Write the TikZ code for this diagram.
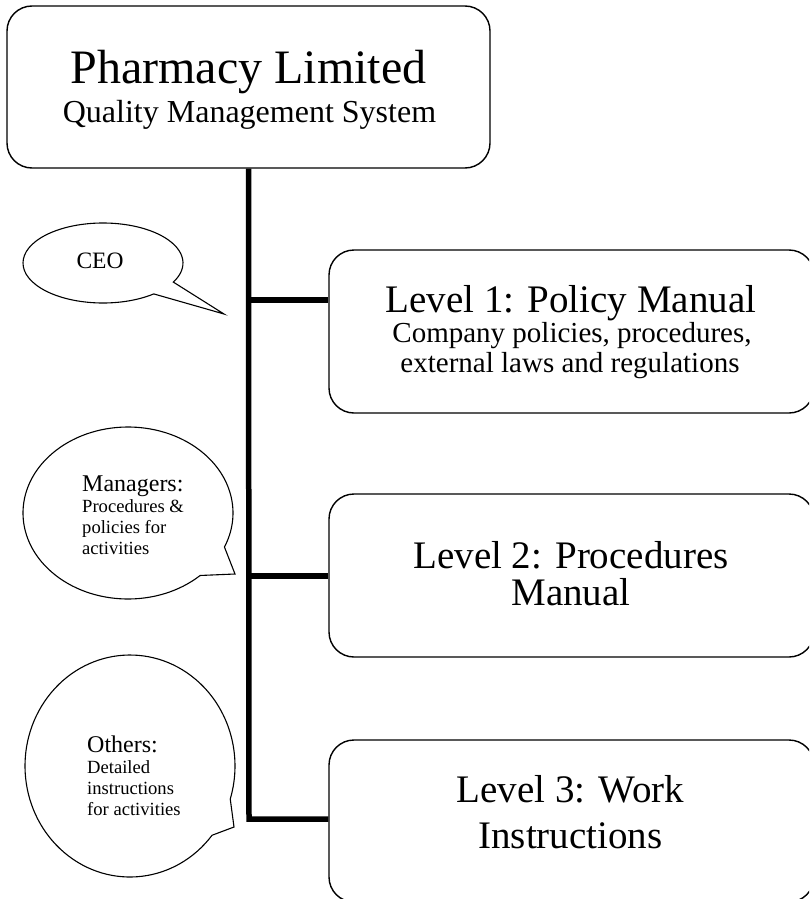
\documentclass[tikz,border=0pt]{standalone}
\usepackage{fontspec}
\setmainfont{Liberation Serif}
\usetikzlibrary{calc}
\begin{document}
\begin{tikzpicture}[x=1pt,y=-1pt,
  box/.style={draw, line width=1.4pt, rounded corners=25pt, inner sep=0pt},
  bubble/.style={draw, line width=1.1pt, line join=miter},
  stem/.style={line width=5.5pt, line join=miter},
  txt/.style={anchor=base, inner sep=0pt},
  txtl/.style={anchor=base west, inner sep=0pt},
  big/.style={font=\fontsize{48}{52}\selectfont},
  sub/.style={font=\fontsize{32}{36}\selectfont},
  lvl/.style={font=\fontsize{39}{44}\selectfont},
  lvlsub/.style={font=\fontsize{29}{33}\selectfont},
  who/.style={font=\fontsize{24}{28}\selectfont},
  whosub/.style={font=\fontsize{18.6}{22}\selectfont},
]
\clip (0,0) rectangle (809,899);

% top box
\node[box, minimum width=483pt, minimum height=162pt] (top) at (248.5,87) {};
\node[txt, big] (t1) at (248.5,83) {Pharmacy Limited};
\node[txt, sub] (t2) at (249.5,122) {Quality Management System};

% level boxes
\node[box, minimum width=485pt, minimum height=163pt] (L1) at (571.5,331.5) {};
\node[box, minimum width=485pt, minimum height=163pt] (L2) at (571.5,575.5) {};
\node[box, minimum width=485pt, minimum height=162pt] (L3) at (571.5,821) {};

\node[txt, lvl] (l1a) at (571,312) {Level 1: Policy Manual};
\node[txt, lvlsub] (l1b) at (572,342) {Company policies, procedures,};
\node[txt, lvlsub] (l1c) at (570,372) {external laws and regulations};

\node[txt, lvl] (l2a) at (571,568) {Level 2: Procedures};
\node[txt, lvl] (l2b) at (571,605) {Manual};

\node[txt, lvl] (l3a) at (570.5,802) {Level 3: Work};
\node[txt, lvl] (l3b) at (570.5,848) {Instructions};

% connectors
\coordinate (j1) at (249,300);
\coordinate (j2) at (249,576);
\coordinate (j3) at (249,819);
\draw[stem] (top.south) -- (j3) -- (j3 -| L3.west);
\draw[stem] (j1) -- (j1 -| L1.west);
\draw[stem] (j2) -- (j2 -| L2.west);

% speech bubbles
\draw[bubble] ($(103,263)+(50.6:80 and 40)$) arc[start angle=50.6, end angle=388.5, x radius=80, y radius=40]
  -- (224,314) -- cycle;
\node[txt, font=\fontsize{23.5}{27}\selectfont] (ceo) at (100,268) {CEO};

\draw[bubble] ($(128,513)+(46.6:105 and 86)$) arc[start angle=46.6, end angle=383.3, x radius=105, y radius=86]
  -- (235,574) -- cycle;
\node[txtl, who] (m1) at (82,491) {Managers:};
\node[txtl, whosub] (m2) at (82,512) {Procedures \&};
\node[txtl, whosub] (m3) at (82,533) {policies for};
\node[txtl, whosub] (m4) at (82,554) {activities};

\draw[bubble] ($(130,766)+(38.6:105 and 111)$) arc[start angle=38.6, end angle=377.3, x radius=105, y radius=111]
  -- (234,827) -- cycle;
\node[txtl, who] (o1) at (87,752) {Others:};
\node[txtl, whosub] (o2) at (87,773) {Detailed};
\node[txtl, whosub] (o3) at (87,794) {instructions};
\node[txtl, whosub] (o4) at (87,815) {for activities};
\end{tikzpicture}
\end{document}
